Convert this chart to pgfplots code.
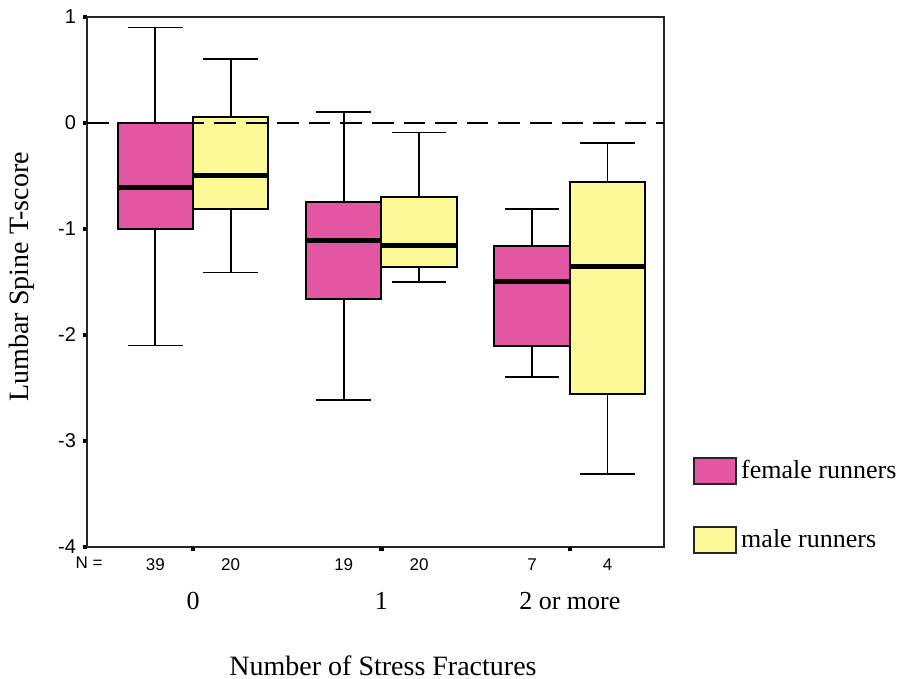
\documentclass[border=0pt]{standalone}
\usepackage{fontspec}
\setmainfont{Liberation Serif}
\newfontfamily\arialfont{Liberation Sans}
\usepackage{pgfplots}
\pgfplotsset{compat=1.18}
\usepgfplotslibrary{statistics}
\definecolor{pinkc}{RGB}{226,86,162}
\definecolor{yellowc}{RGB}{252,250,150}
\begin{document}
\begin{tikzpicture}
\useasboundingbox (0,0) rectangle (449.5pt,339.5pt);
\begin{axis}[
  at={(43.75pt,66pt)}, anchor=south west,
  width=288.25pt, height=265pt, scale only axis,
  xmin=-0.56, xmax=2.5, ymin=-4, ymax=1,
  axis line style={line width=1pt, black!85},
  tick align=outside,
  ytick={-4,-3,-2,-1,0,1},
  yticklabels={-4,-3,-2,-1,0,1},
  ytick pos=left, xtick pos=bottom,
  major tick length=2.2pt,
  ytick style={line width=2.2pt, black},
  yticklabel style={font=\arialfont\fontsize{10}{12}\selectfont},
  xtick={-0.2,0.2,0.8,1.2,1.8,2.2},
  xticklabels={39,20,19,20,7,4},
  xtick style={draw=none},
  xticklabel style={font=\arialfont\fontsize{8.5}{10}\selectfont},
  extra x ticks={0,1,2},
  extra x tick labels={},
  extra x tick style={xtick style={draw=black, line width=2.2pt}},
  xlabel={Number of Stress Fractures},
  ylabel={Lumbar Spine T-score},
  xlabel style={font=\fontsize{14}{16}\selectfont, at={(axis description cs:0.5126,0)}, anchor=base, yshift=-64.5pt},
  ylabel style={font=\fontsize{14}{16}\selectfont, at={(axis description cs:-0.1136,0.51)}, anchor=center},
  clip=false,
  boxplot/draw direction=y,
  boxplot/every median/.style={line width=2.5pt, black},
  boxplot/every box/.style={line width=1pt},
  boxplot/every whisker/.style={line width=0.9pt},
  legend image code/.code={\draw[#1, draw=black!85, line width=1pt] (0pt,-6.5pt) rectangle (21pt,6.5pt);},
  legend style={draw=none, fill=none, inner sep=0pt, row sep=20pt,
    at={(axis description cs:1.05,0.172)}, anchor=north west,
    font=\fontsize{13}{15}\selectfont, cells={anchor=west}},
]
% group 0
\addplot[boxplot prepared={draw position=-0.2, lower whisker=-2.10, lower quartile=-1.00, median=-0.61, upper quartile=0.00, upper whisker=0.90, box extend=0.4, whisker extend=0.29}, fill=pinkc, draw=black, line width=0.9pt, forget plot] coordinates {};
\addplot[boxplot prepared={draw position=0.2, lower whisker=-1.41, lower quartile=-0.81, median=-0.50, upper quartile=0.06, upper whisker=0.60, box extend=0.4, whisker extend=0.29}, fill=yellowc, draw=black, line width=0.9pt, forget plot] coordinates {};
% group 1
\addplot[boxplot prepared={draw position=0.8, lower whisker=-2.61, lower quartile=-1.66, median=-1.11, upper quartile=-0.75, upper whisker=0.10, box extend=0.4, whisker extend=0.29}, fill=pinkc, draw=black, line width=0.9pt, forget plot] coordinates {};
\addplot[boxplot prepared={draw position=1.2, lower whisker=-1.50, lower quartile=-1.355, median=-1.16, upper quartile=-0.70, upper whisker=-0.09, box extend=0.4, whisker extend=0.29}, fill=yellowc, draw=black, line width=0.9pt, forget plot] coordinates {};
% group 2
\addplot[boxplot prepared={draw position=1.8, lower whisker=-2.40, lower quartile=-2.10, median=-1.50, upper quartile=-1.156, upper whisker=-0.81, box extend=0.4, whisker extend=0.29}, fill=pinkc, draw=black, line width=0.9pt, forget plot] coordinates {};
\addplot[boxplot prepared={draw position=2.2, lower whisker=-3.31, lower quartile=-2.56, median=-1.355, upper quartile=-0.554, upper whisker=-0.19, box extend=0.4, whisker extend=0.29}, fill=yellowc, draw=black, line width=0.9pt, forget plot] coordinates {};
% reference line at 0, drawn over the boxes
\addplot[black, dash pattern=on 10.8pt off 5pt, line width=0.9pt, forget plot] coordinates {(-0.56,0) (2.5,0)};
\addlegendimage{fill=pinkc}
\addlegendentry{female runners}
\addlegendimage{fill=yellowc}
\addlegendentry{male runners}
\node[font=\arialfont\fontsize{8.5}{10}\selectfont, anchor=base] at (axis description cs:0,0) [xshift=0.75pt, yshift=-11pt] {N =};
\node[font=\fontsize{13}{15}\selectfont, anchor=base] at (axis cs:0,-4) [yshift=-31.5pt] {0};
\node[font=\fontsize{13}{15}\selectfont, anchor=base] at (axis cs:1,-4) [yshift=-31.5pt] {1};
\node[font=\fontsize{13}{15}\selectfont, anchor=base] at (axis cs:2,-4) [yshift=-31.5pt] {2 or more};
\end{axis}
\end{tikzpicture}
\end{document}
